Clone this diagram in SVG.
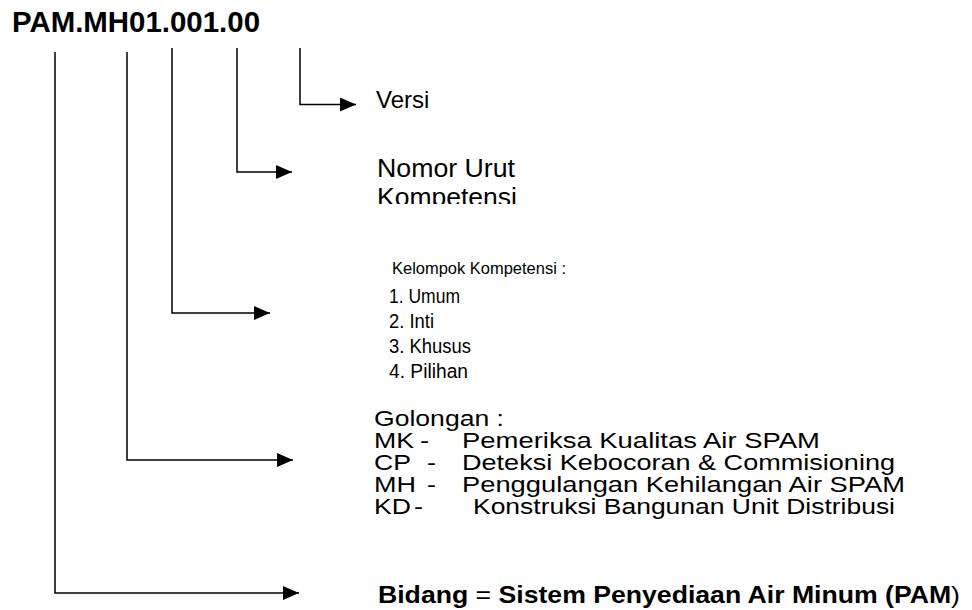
<svg xmlns="http://www.w3.org/2000/svg" width="972" height="610" viewBox="0 0 972 610">
<style>
.t{font-family:"Liberation Sans",Arial,Helvetica,sans-serif;fill:#000}
.b{font-weight:bold}
.c{fill:none;stroke:#000;stroke-width:1.5}
</style>
<defs>
<marker id="ah" markerUnits="userSpaceOnUse" markerWidth="16" markerHeight="14" refX="16" refY="7" orient="auto">
<path d="M0,0 L16,7 L0,14 z" fill="#000"/>
</marker>
<clipPath id="clipNomor"><rect x="360" y="140" width="220" height="64"/></clipPath>
</defs>
<rect width="972" height="610" fill="#fff"/>
<g id="code"><text class="t b" x="12" y="32" font-size="29" textLength="248" lengthAdjust="spacingAndGlyphs">PAM.MH01.001.00</text></g>
<g id="connectors">
<polyline class="c" points="300,48 300,104.5 356,104.5" marker-end="url(#ah)"/>
<polyline class="c" points="237,48 237,172 292,172" marker-end="url(#ah)"/>
<polyline class="c" points="172,48 172,313 270,313" marker-end="url(#ah)"/>
<polyline class="c" points="127,52 127,460 293,460" marker-end="url(#ah)"/>
<polyline class="c" points="55,52 55,593 299,593" marker-end="url(#ah)"/>
</g>
<g id="versi"><text class="t" x="376" y="108" font-size="24">Versi</text></g>
<g id="nomor" clip-path="url(#clipNomor)">
<text class="t" x="377" y="177" font-size="25" textLength="138" lengthAdjust="spacingAndGlyphs">Nomor Urut</text>
<text class="t" x="377" y="205.5" font-size="25" textLength="140" lengthAdjust="spacingAndGlyphs">Kompetensi</text>
</g>
<g id="kelompok">
<text class="t" x="392" y="274" font-size="17" textLength="174" lengthAdjust="spacingAndGlyphs">Kelompok Kompetensi :</text>
<text class="t" x="389" y="303" font-size="20" textLength="71" lengthAdjust="spacingAndGlyphs">1. Umum</text>
<text class="t" x="389" y="328" font-size="20" textLength="45" lengthAdjust="spacingAndGlyphs">2. Inti</text>
<text class="t" x="389" y="353" font-size="20" textLength="82" lengthAdjust="spacingAndGlyphs">3. Khusus</text>
<text class="t" x="389" y="378" font-size="20" textLength="79" lengthAdjust="spacingAndGlyphs">4. Pilihan</text>
</g>
<g id="golongan" font-size="21.5">
<text class="t" x="374" y="425.5" textLength="130" lengthAdjust="spacingAndGlyphs">Golongan :</text>
<text class="t" x="374" y="448" textLength="40" lengthAdjust="spacingAndGlyphs">MK</text><text class="t" x="420" y="448" textLength="9" lengthAdjust="spacingAndGlyphs">-</text><text class="t" x="462" y="448" textLength="358" lengthAdjust="spacingAndGlyphs">Pemeriksa Kualitas Air SPAM</text>
<text class="t" x="374" y="470" textLength="37" lengthAdjust="spacingAndGlyphs">CP</text><text class="t" x="427" y="470" textLength="9" lengthAdjust="spacingAndGlyphs">-</text><text class="t" x="462" y="470" textLength="433" lengthAdjust="spacingAndGlyphs">Deteksi Kebocoran &amp; Commisioning</text>
<text class="t" x="374" y="492" textLength="42" lengthAdjust="spacingAndGlyphs">MH</text><text class="t" x="427" y="492" textLength="9" lengthAdjust="spacingAndGlyphs">-</text><text class="t" x="462" y="492" textLength="443" lengthAdjust="spacingAndGlyphs">Penggulangan Kehilangan Air SPAM</text>
<text class="t" x="374" y="514" textLength="37" lengthAdjust="spacingAndGlyphs">KD</text><text class="t" x="414" y="514" textLength="9" lengthAdjust="spacingAndGlyphs">-</text><text class="t" x="473" y="514" textLength="422" lengthAdjust="spacingAndGlyphs">Konstruksi Bangunan Unit Distribusi</text>
</g>
<g id="bidang"><text class="t" x="378" y="603" font-size="24" textLength="582" lengthAdjust="spacingAndGlyphs"><tspan class="b">Bidang</tspan> = <tspan class="b">Sistem Penyediaan Air Minum (PAM</tspan>)</text></g>
</svg>
